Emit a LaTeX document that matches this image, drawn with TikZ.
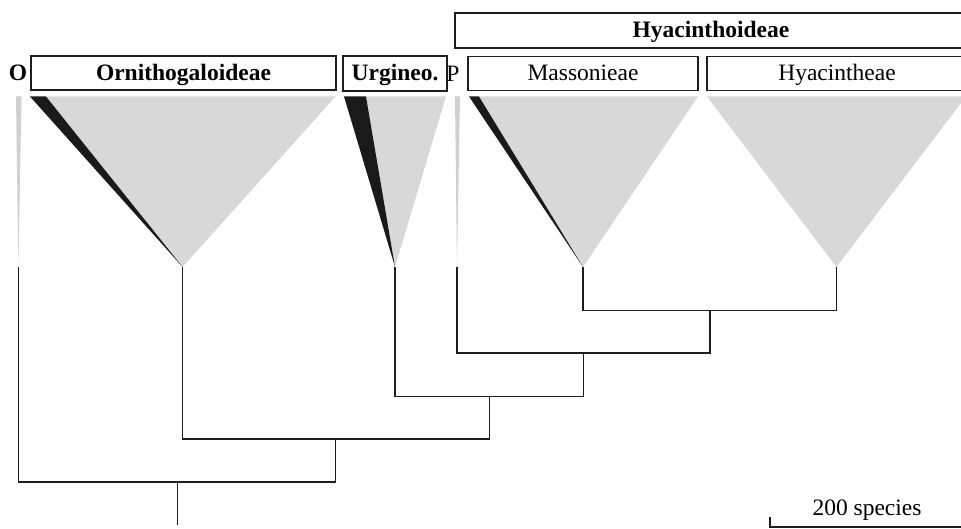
\documentclass[tikz,border=0pt]{standalone}
\usepackage{fontspec}
\setmainfont{Liberation Serif}
\definecolor{cladegray}{RGB}{216,216,216}
\definecolor{wedgeblack}{RGB}{26,26,26}
\definecolor{stemgray}{RGB}{208,208,208}
\definecolor{linegray}{RGB}{30,30,30}
\begin{document}
\begin{tikzpicture}[x=1pt,y=-1pt,
  labelbox/.style={draw=linegray, line width=1.4pt, inner sep=0pt,
    text height=17pt, text depth=2pt, font=\fontsize{23.5}{27}\selectfont},
  boldbox/.style={labelbox, font=\fontsize{23.5}{27}\selectfont\bfseries},
  plainlabel/.style={inner sep=0pt, text height=17pt, text depth=2pt,
    font=\fontsize{23.5}{27}\selectfont},
  branch/.style={draw=linegray, line width=1.3pt, line join=miter},
  clade/.style={fill=cladegray},
  wedge/.style={fill=wedgeblack}]
\useasboundingbox (0,0) rectangle (961,529);

% ---- clade labels ----
\node[plainlabel, font=\fontsize{23.5}{27}\selectfont\bfseries] (lO) at (18,73) {O};
\node[boldbox, minimum width=305pt, minimum height=34pt] (orn) at (183.5,73) {Ornithogaloideae};
\node[boldbox, minimum width=104pt, minimum height=35pt] (urg) at (395,73.5) {Urgineo.};
\node[plainlabel] (lP) at (453,74) {P};
\node[labelbox, minimum width=230pt, minimum height=34pt] (mas) at (583,73.5) {Massonieae};
\node[labelbox, minimum width=260pt, minimum height=34pt] (hyc) at (837,73.5) {Hyacintheae};
\node[boldbox, minimum width=512pt, minimum height=35pt] (hyo) at (711,30.5) {Hyacinthoideae};

% ---- clade tips ----
\coordinate (tO)   at (18.4,267);
\coordinate (tOrn) at (182.6,267);
\coordinate (tUrg) at (395,267);
\coordinate (tP)   at (457,267);
\coordinate (tMas) at (583,267);
\coordinate (tHyc) at (836.5,267);

% ---- species-richness triangles ----
\fill[stemgray] (16,96.5) -- (21.5,96.5) -- (tO) -- cycle;
\fill[clade] (46,96.5) -- (335.5,96.5) -- (tOrn) -- cycle;
\fill[wedge] (30,96.5) -- (46,96.5) -- (tOrn) -- cycle;
\fill[clade] (366,96.5) -- (446,96.5) -- (tUrg) -- cycle;
\fill[wedge] (344,96.5) -- (366,96.5) -- (tUrg) -- cycle;
\fill[stemgray] (455,96.5) -- (460,96.5) -- (tP) -- cycle;
\fill[clade] (479,96.5) -- (698,96.5) -- (tMas) -- cycle;
\fill[wedge] (469,96.5) -- (479,96.5) -- (tMas) -- cycle;
\fill[clade] (707,96.5) -- (966,96.5) -- (tHyc) -- cycle;

% ---- internal nodes of the tree ----
\coordinate (j1) at (710,310.7);
\coordinate (j2) at (583.5,353);
\coordinate (j3) at (489.6,396.7);
\coordinate (j4) at (335.8,439);
\coordinate (j5) at (177.7,482);
\coordinate (root) at (177.7,525);

\draw[branch] (tMas) |- (j1) -| (tHyc);
\draw[branch] (tP) |- (j2) -| (j1);
\draw[branch] (tUrg) |- (j3) -| (j2);
\draw[branch] (tOrn) |- (j4) -| (j3);
\draw[branch] (tO) |- (j5) -| (j4);
\draw[branch, line width=1pt] (j5) -- (root);

% ---- scale bar ----
\coordinate (sL) at (770,527);
\coordinate (sR) at (962,527);
\coordinate (sT) at (770,517);
\draw[branch] (sT) -- (sL) -- (sR);
\node[plainlabel, anchor=base] (scale) at (867,515) {200 species};
\end{tikzpicture}
\end{document}
